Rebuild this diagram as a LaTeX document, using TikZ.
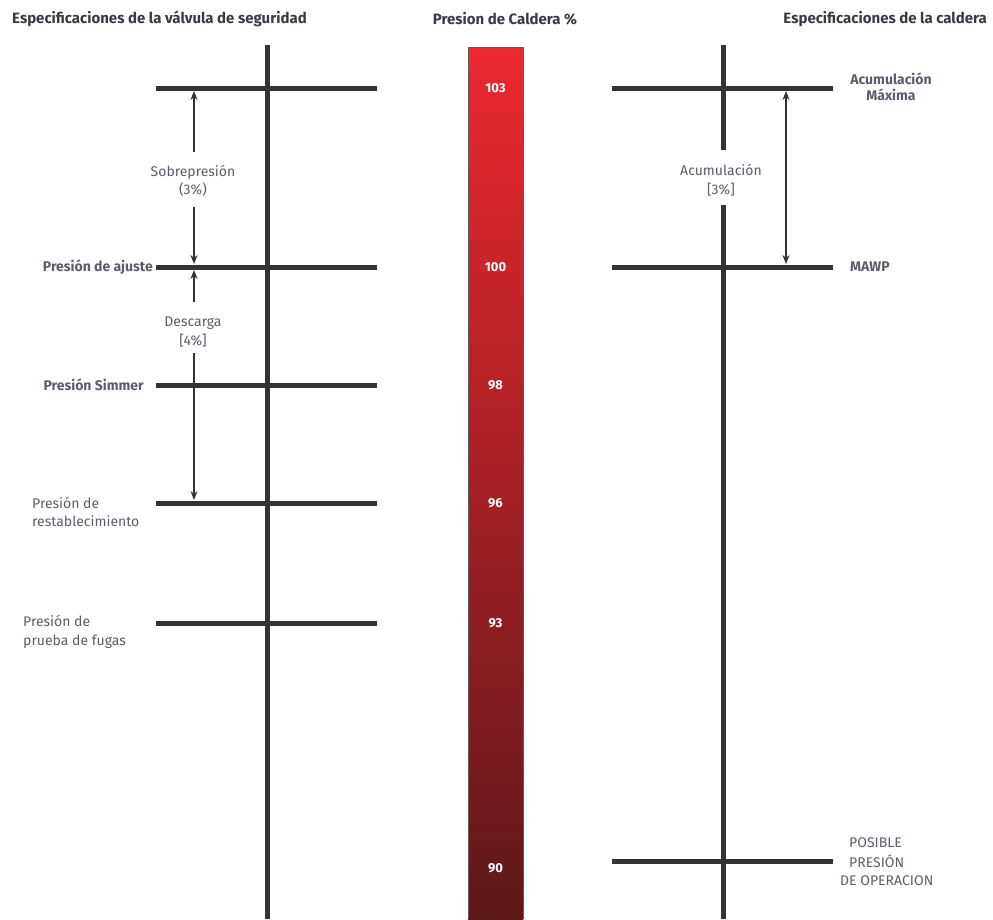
\documentclass[tikz,border=0pt]{standalone}
\usepackage{fontspec}
\setmainfont{Fira Sans}
\usetikzlibrary{arrows.meta}
\definecolor{ink}{HTML}{333333}
\definecolor{headink}{HTML}{3A3A46}
\definecolor{lbl}{HTML}{5C5C6C}
\definecolor{hotred}{HTML}{EC2830}
\definecolor{darkred}{HTML}{5E181A}
\begin{document}
\begin{tikzpicture}[x=1pt,y=-1pt,
  bar/.style={line width=5pt, draw=ink},
  tip/.tip={Stealth[length=9pt,width=7pt]},
  dim/.style={line width=1.1pt, draw=ink, -tip},
  dimboth/.style={line width=1.1pt, draw=ink, tip-tip},
  head/.style={font=\fontsize{15}{17}\selectfont\bfseries, text=headink, inner sep=0pt},
  lab/.style={font=\fontsize{14}{18.5}\selectfont, text=lbl, inner sep=0pt},
  labb/.style={font=\fontsize{14}{16.5}\selectfont\bfseries, text=lbl, inner sep=0pt},
  num/.style={font=\fontsize{13}{15}\selectfont\bfseries, text=white, inner sep=0pt}]
\useasboundingbox (0,0) rectangle (993,919);

% column headings
\node[head, anchor=west] (h1) at (12,19) {Especificaciones de la válvula de seguridad};
\node[head] (h2) at (505,19) {Presion de Caldera \%};
\node[head, anchor=east] (h3) at (987,19) {Especificaciones de la caldera};

% pressure scale bar
\shade[top color=hotred, bottom color=darkred] (468,47) rectangle (523,919);
\draw[draw=ink!80, line width=0.8pt] (468,919) -- (468,47) -- (523,47) -- (523,919);
\foreach \v/\y in {103/88, 100/267, 98/385, 96/503, 93/623, 90/868}
  \node[num] (n\v) at (495.5,\y) {\v};

% safety valve axis
\coordinate (lvtop) at (267,45);
\coordinate (lvbot) at (267,919);
\draw[bar] (lvtop) -- (lvbot);
\foreach \n/\y in {a/88, b/267, c/385, d/503, e/623} {
  \coordinate (L\n w) at (156,\y);
  \coordinate (L\n e) at (377,\y);
  \draw[bar] (L\n w) -- (L\n e);
}

% overpressure span
\node[lab, align=center] (sobre) at (193,181) {Sobrepresión\\(3\%)};
\coordinate (s1) at (194,152);
\coordinate (s2) at (194,91);
\coordinate (s3) at (194,207);
\coordinate (s4) at (194,264);
\draw[dim] (s1) -- (s2);
\draw[dim] (s3) -- (s4);

% blowdown span
\node[lab, align=center] (desc) at (193,332) {Descarga\\{[}4\%{]}};
\coordinate (d1) at (194,302);
\coordinate (d2) at (194,270);
\coordinate (d3) at (194,353);
\coordinate (d4) at (194,500);
\draw[dim] (d1) -- (d2);
\draw[dim] (d3) -- (d4);

% valve level labels
\node[labb, anchor=east] (ajuste) at (153,267) {Presión de ajuste};
\node[labb, anchor=east] (simmer) at (144,385) {Presión Simmer};
\node[lab, anchor=west, align=left] (restab) at (32,512) {Presión de\\restablecimiento};
\node[lab, anchor=west, align=left] (fugas) at (23,632) {Presión de\\prueba de fugas};

% boiler axis (broken behind its label)
\coordinate (rvtop) at (723,45);
\coordinate (rvgap1) at (723,150);
\coordinate (rvgap2) at (723,205);
\coordinate (rvbot) at (723,919);
\draw[bar] (rvtop) -- (rvgap1);
\draw[bar] (rvgap2) -- (rvbot);
\foreach \n/\y in {a/88, b/267, c/861} {
  \coordinate (R\n w) at (612,\y);
  \coordinate (R\n e) at (833,\y);
  \draw[bar] (R\n w) -- (R\n e);
}
\node[lab, align=center] (acum) at (721,180) {Acumulación\\{[}3\%{]}};
\coordinate (a1) at (786,91);
\coordinate (a2) at (786,264);
\draw[dimboth] (a1) -- (a2);

% boiler level labels
\node[labb, align=center] (acmax) at (891,87) {Acumulación\\Máxima};
\node[labb, anchor=west] (mawp) at (850,267) {MAWP};
\node[lab, anchor=west] (pos1) at (849,843) {POSIBLE};
\node[lab, anchor=west] (pos2) at (849,861) {PRESIÓN};
\node[lab, anchor=west] (pos3) at (840,881) {DE OPERACION};
\end{tikzpicture}
\end{document}
